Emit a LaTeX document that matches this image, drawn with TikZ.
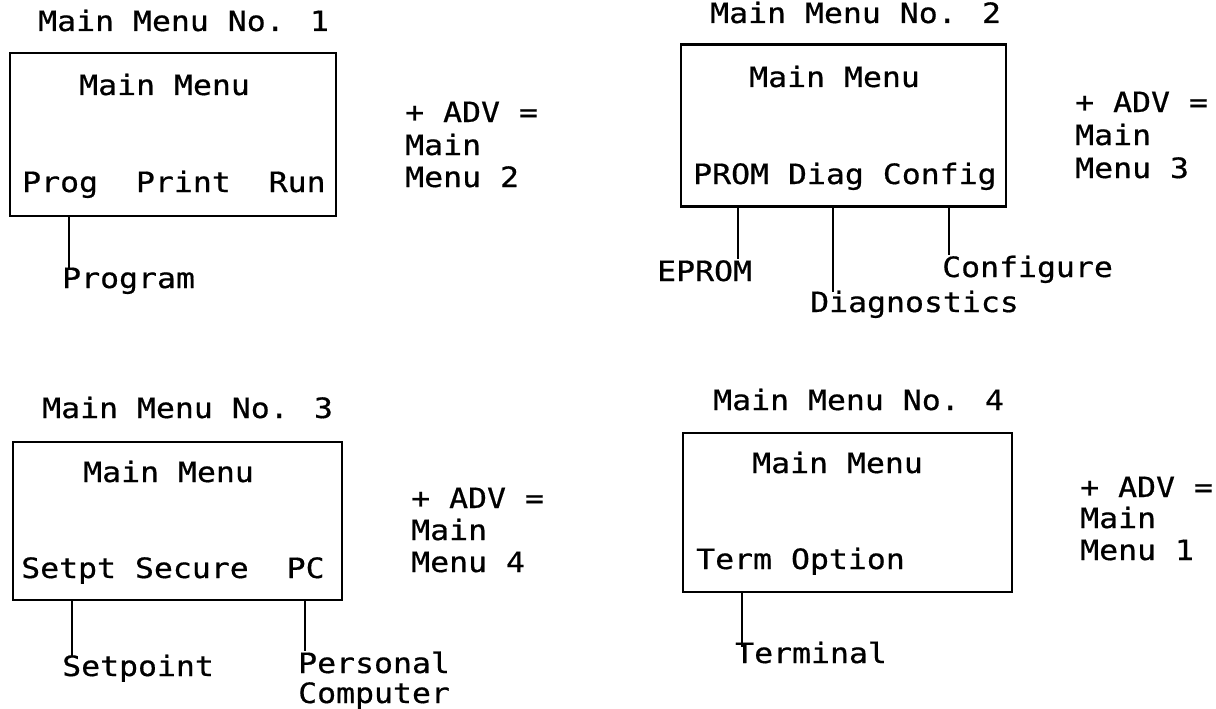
\documentclass[tikz,border=0pt]{standalone}
\usepackage{fontspec}
\newfontfamily\plotfont[FakeStretch=1.125,FakeBold=0.6]{DejaVu Sans Mono}
\begin{document}
\begin{tikzpicture}[x=1pt,y=-1pt,
  txt/.style={anchor=base west, inner sep=0pt, font=\plotfont\fontsize{28}{32}\selectfont},
  menubox/.style={draw, line width=2.2pt, rectangle, inner sep=0pt, outer sep=0pt},
  lead/.style={line width=2pt}]
\useasboundingbox (0,0) rectangle (1216,709);

% ---------- Panel 1 ----------
\node[txt] (t1) at (38,31) {Main Menu No. 1};
\node[menubox, minimum width=326pt, minimum height=163pt] (b1) at (173,134.5) {};
\node[txt] (m1) at (79,95) {Main Menu};
\node[txt] (o1) at (22,192) {Prog\ \ Print\ \ Run};
\node[txt] (p1) at (62,288) {Program};
\coordinate (c1) at (69,269);
\draw[lead] (b1.south -| c1) -- (c1);
\node[txt] (a1) at (405,122) {+ ADV =};
\node[txt] (a1b) at (405,155) {Main};
\node[txt] (a1c) at (405,187) {Menu 2};

% ---------- Panel 2 ----------
\node[txt] (t2) at (710,23) {Main Menu No. 2};
\node[menubox, minimum width=325pt, minimum height=162pt] (b2) at (843.5,125.5) {};
\node[txt] (m2) at (749,87) {Main Menu};
\node[txt] (o2) at (693,184) {PROM Diag Config};
\node[txt] (e2) at (657,281) {EPROM};
\node[txt] (d2) at (810,312) {Diagnostics};
\node[txt] (g2) at (942,277) {Configure};
\coordinate (c2a) at (738,259);
\coordinate (c2b) at (833,292);
\coordinate (c2c) at (949,255);
\draw[lead] (b2.south -| c2a) -- (c2a);
\draw[lead] (b2.south -| c2b) -- (c2b);
\draw[lead] (b2.south -| c2c) -- (c2c);
\node[txt] (a2) at (1075,112) {+ ADV =};
\node[txt] (a2b) at (1075,145) {Main};
\node[txt] (a2c) at (1075,178) {Menu 3};

% ---------- Panel 3 ----------
\node[txt] (t3) at (42,418) {Main Menu No. 3};
\node[menubox, minimum width=329pt, minimum height=158pt] (b3) at (177.5,521) {};
\node[txt] (m3) at (83,482) {Main Menu};
\node[txt] (o3) at (21,578) {Setpt Secure\ \ PC};
\node[txt] (s3) at (62,676) {Setpoint};
\node[txt] (p3) at (298,673) {Personal};
\node[txt] (p3b) at (298,703) {Computer};
\coordinate (c3a) at (72,656);
\coordinate (c3b) at (305,651);
\draw[lead] (b3.south -| c3a) -- (c3a);
\draw[lead] (b3.south -| c3b) -- (c3b);
\node[txt] (a3) at (411,508) {+ ADV =};
\node[txt] (a3b) at (411,540) {Main};
\node[txt] (a3c) at (411,572) {Menu 4};

% ---------- Panel 4 ----------
\node[txt] (t4) at (713,410) {Main Menu No. 4};
\node[menubox, minimum width=329pt, minimum height=159pt] (b4) at (847.5,512.5) {};
\node[txt] (m4) at (752,473) {Main Menu};
\node[txt] (o4) at (696,569) {Term Option};
\node[txt] (r4) at (735,663) {Terminal};
\coordinate (c4) at (742,647);
\draw[lead] (b4.south -| c4) -- (c4);
\node[txt] (a4) at (1080,497) {+ ADV =};
\node[txt] (a4b) at (1080,528) {Main};
\node[txt] (a4c) at (1080,560) {Menu 1};
\end{tikzpicture}
\end{document}
